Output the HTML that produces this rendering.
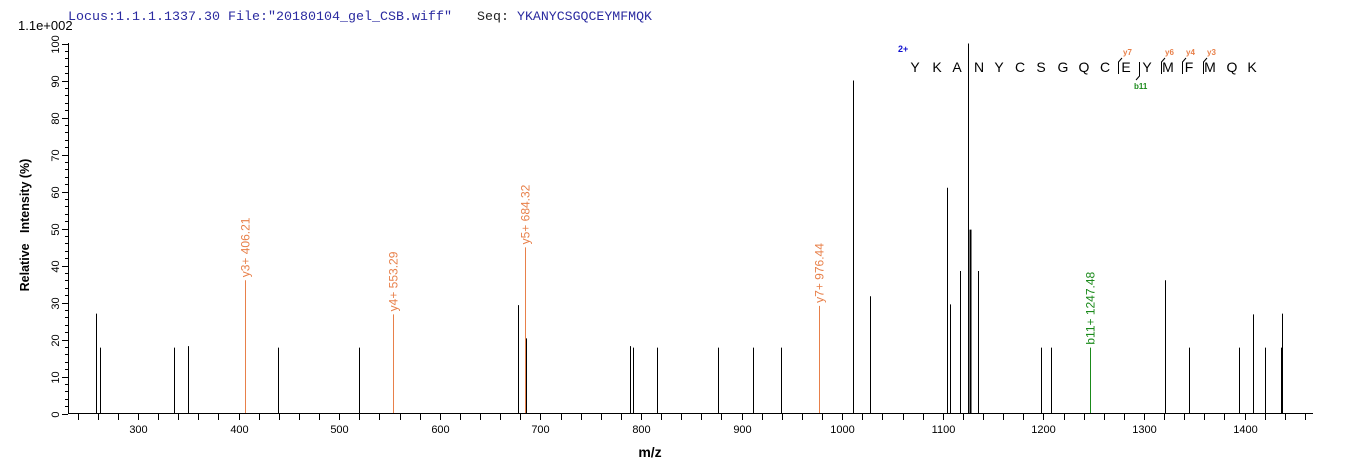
<!DOCTYPE html>
<html><head><meta charset="utf-8"><style>
html,body{margin:0;padding:0;background:#fff;}
svg{display:block;}
text{font-family:"Liberation Sans",Arial,sans-serif;}
</style></head><body>
<svg width="1362" height="473" viewBox="0 0 1362 473" xmlns="http://www.w3.org/2000/svg">
<text x="68" y="20" font-family="Liberation Mono, monospace" font-size="13.3" fill="#2a2aa0" textLength="384" lengthAdjust="spacingAndGlyphs" style="font-family:'Liberation Mono',monospace">Locus:1.1.1.1337.30 File:"20180104_gel_CSB.wiff"</text>
<text x="477" y="20" font-size="13.3" fill="#222" style="font-family:'Liberation Mono',monospace">Seq:</text>
<text x="517" y="20" font-size="13.3" fill="#2a2aa0" textLength="135" lengthAdjust="spacingAndGlyphs" style="font-family:'Liberation Mono',monospace">YKANYCSGQCEYMFMQK</text>
<text x="18" y="30" font-size="13" fill="#000">1.1e+002</text>

<!-- axes -->
<g stroke="#000" stroke-width="1" fill="none">
<line x1="68.5" y1="43" x2="68.5" y2="413.5"/>
<line x1="68" y1="413.5" x2="1313" y2="413.5"/>
<path id="yt" d=""/>
</g>
<g id="yticks" stroke="#000" stroke-width="1"></g>
<g id="xticks" stroke="#000" stroke-width="1"></g>
<g id="ylab" font-size="11" fill="#000"></g>
<g id="xlab" font-size="11" fill="#000" text-anchor="middle"></g>

<text x="650" y="457" font-size="14" font-weight="bold" text-anchor="middle">m/z</text>
<text transform="translate(29,225) rotate(-90)" font-size="12.5" font-weight="bold" text-anchor="middle" xml:space="preserve">Relative   Intensity (%)</text>

<g id="peaks"></g>

<!-- sequence -->
<text x="898" y="52" font-size="9" font-weight="bold" fill="#1010d0">2+</text>
<g font-size="14" fill="#000" text-anchor="middle">
<text x="915" y="72">Y</text><text x="937" y="72">K</text><text x="957" y="72">A</text><text x="979" y="72">N</text><text x="999" y="72">Y</text><text x="1020" y="72">C</text><text x="1041" y="72">S</text><text x="1063" y="72">G</text><text x="1084" y="72">Q</text><text x="1105" y="72">C</text><text x="1126" y="72">E</text><text x="1147" y="72">Y</text><text x="1168" y="72">M</text><text x="1189" y="72">F</text><text x="1210" y="72">M</text><text x="1232" y="72">Q</text><text x="1252" y="72">K</text>
</g>
<g stroke="#000" stroke-width="1" fill="none">
<path d="M1118.5 74 V62 L1122 58"/>
<path d="M1139.5 62 V76 L1136 80"/>
<path d="M1161.5 74 V62 L1165 58"/>
<path d="M1182.5 74 V62 L1186 58"/>
<path d="M1203.5 74 V62 L1207 58"/>
</g>
<g font-size="8" font-weight="bold" fill="#e8804a">
<text x="1123" y="55">y7</text><text x="1165" y="55">y6</text><text x="1186" y="55">y4</text><text x="1207" y="55">y3</text>
</g>
<text x="1134" y="89" font-size="8" font-weight="bold" fill="#1a8a1a">b11</text>

<script>
(function(){
var NS="http://www.w3.org/2000/svg";
function el(p,t,a,txt){var e=document.createElementNS(NS,t);for(var k in a)e.setAttribute(k,a[k]);if(txt!==undefined)e.textContent=txt;p.appendChild(e);return e;}
function Y(v){return 413.5-3.7*v;}
function X(m){return 138+(m-300)*1.006;}
var yt=document.getElementById('yticks'),xt=document.getElementById('xticks'),yl=document.getElementById('ylab'),xl=document.getElementById('xlab');
for(var v=0;v<=100;v+=2){var y=Math.round(Y(v))+0.5;var L=(v%10==0)?6:3;el(yt,'line',{x1:68-L,y1:y,x2:68,y2:y});
 if(v%10==0){el(yl,'text',{transform:'translate(59,'+(y)+') rotate(-90)','text-anchor':'middle'},String(v));}}
for(var m=240;m<=1460;m+=20){var x=Math.round(X(m))+0.5;if(x>1313)break;el(xt,'line',{x1:x,y1:413,x2:x,y2:420});
 if(m%100==0)el(xl,'text',{x:x,y:433},String(m));}
var pk=document.getElementById('peaks');
var blk=[[96.3,27],[100.3,17.8],[173.7,17.8],[188.3,18.2],[278.3,17.8],[359.3,17.8],[518.3,29.3],[525.8,20.3],[630.3,18.2],[633.3,17.8],[657.3,17.8],[718.3,17.8],[753.3,17.8],[781.3,17.8],[853.3,90],[870.3,31.7],[947.3,61],[950.3,29.5],[960.3,38.5],[968.3,100],[969.6,49.7],[978.3,38.5],[1040.7,17.8],[1051.3,17.8],[1165.3,36],[1189.3,17.8],[1239.3,17.8],[1253.3,26.8],[1265.3,17.8],[1280.8,17.8],[1281.8,27]];
blk.forEach(function(p){var x=Math.round(p[0])+0.5;el(pk,'line',{x1:x,y1:413,x2:x,y2:Y(p[1]),stroke:'#000','stroke-width':(p[0]==969.6?2:1)});});
var lab=[[245.3,36,'#e8804a','y3+ 406.21'],[392.7,26.8,'#e8804a','y4+ 553.29'],[524.7,44.9,'#e8804a','y5+ 684.32'],[818.7,29.1,'#e8804a','y7+ 976.44'],[1090.3,17.8,'#1a8a1a','b11+ 1247.48']];
lab.forEach(function(p){var x=Math.round(p[0])+0.5;var y=Y(p[1]);el(pk,'line',{x1:x,y1:413,x2:x,y2:y,stroke:p[2],'stroke-width':1});
 el(pk,'text',{transform:'translate('+(x+4)+','+(y-3)+') rotate(-90)','font-size':'12',fill:p[2]},p[3]);});
})();
</script>
</svg>
</body></html>
